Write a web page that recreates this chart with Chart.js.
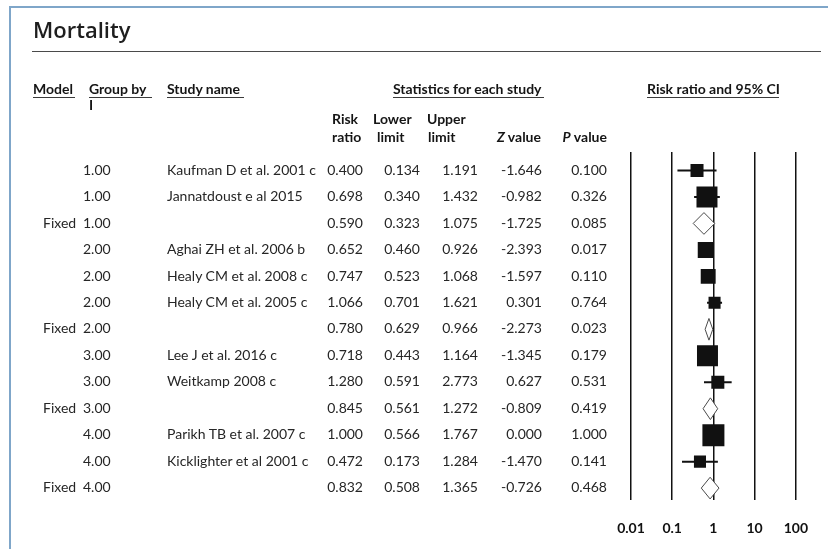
<!DOCTYPE html>
<html>
<head>
<meta charset="utf-8">
<script src="https://cdn.jsdelivr.net/npm/chart.js@4"></script>
<style>
  html, body { margin: 0; padding: 0; background: #ffffff; }
  #wrap { position: relative; width: 828px; height: 549px; overflow: hidden; background: #ffffff; }
  #plot { position: absolute; left: 0; top: 0; }
  .t { position: absolute; white-space: nowrap; }
  .hl { position: absolute; height: 1px; background: #3a3a3a; }
</style>
</head>
<body>
<div id="wrap">
  <canvas id="plot" width="828" height="549" style="width:828px;height:549px"></canvas>
</div>
<script>
// ---------------- data ----------------
const modelLabels = ['', '', 'Fixed', '', '', '', 'Fixed', '', '', 'Fixed', '', '', 'Fixed'];
const groupLabels = ['1.00', '1.00', '1.00', '2.00', '2.00', '2.00', '2.00', '3.00', '3.00', '3.00', '4.00', '4.00', '4.00'];
const studyNames = ['Kaufman D et al. 2001 c', 'Jannatdoust e al 2015', '', 'Aghai ZH et al. 2006 b',
  'Healy CM et al. 2008 c', 'Healy CM et al. 2005 c', '', 'Lee J et al. 2016 c', 'Weitkamp 2008 c', '',
  'Parikh TB et al. 2007 c', 'Kicklighter et al 2001 c', ''];
const riskRatio  = [0.400, 0.698, 0.590, 0.652, 0.747, 1.066, 0.780, 0.718, 1.280, 0.845, 1.000, 0.472, 0.832];
const lowerLimit = [0.134, 0.340, 0.323, 0.460, 0.523, 0.701, 0.629, 0.443, 0.591, 0.561, 0.566, 0.173, 0.508];
const upperLimit = [1.191, 1.432, 1.075, 0.926, 1.068, 1.621, 0.966, 1.164, 2.773, 1.272, 1.767, 1.284, 1.365];
const zValue     = [-1.646, -0.982, -1.725, -2.393, -1.597, 0.301, -2.273, -1.345, 0.627, -0.809, 0.000, -1.470, -0.726];
const pValue     = [0.100, 0.326, 0.085, 0.017, 0.110, 0.764, 0.023, 0.179, 0.531, 0.419, 1.000, 0.141, 0.468];
// relative study weight (drives square size); null for pooled rows
const relWeight  = [0.35, 0.91, null, 0.53, 0.46, 0.30, null, 0.91, 0.35, null, 1.00, 0.30, null];
const tickValues = [0.01, 0.1, 1, 10, 100];
const tickLabels = ['0.01', '0.1', '1', '10', '100'];
const titleText = 'Mortality';

// ---------------- chart ----------------
const rows = riskRatio.map((_, i) => i + 1);
const isSummary = modelLabels.map(m => m === 'Fixed');
const MAX_SIDE = 22;       // px side of the largest square
const DIAMOND_HALF = 0.41; // in row units

const datasets = [];
const sqData = [], sqRadius = [];
rows.forEach((r, i) => {
  if (isSummary[i]) return;
  sqData.push({ x: riskRatio[i], y: r });
  sqRadius.push(MAX_SIDE * Math.sqrt(relWeight[i]) / Math.SQRT2);
});
datasets.push({
  type: 'scatter', order: 0, data: sqData,
  pointStyle: 'rect', pointRadius: sqRadius, pointHoverRadius: sqRadius,
  backgroundColor: '#111111', borderColor: '#111111', borderWidth: 0
});
rows.forEach((r, i) => {
  if (isSummary[i]) {
    datasets.push({
      type: 'line', order: 1,
      data: [
        { x: lowerLimit[i], y: r },
        { x: riskRatio[i], y: r - DIAMOND_HALF },
        { x: upperLimit[i], y: r },
        { x: riskRatio[i], y: r + DIAMOND_HALF },
        { x: lowerLimit[i], y: r }
      ],
      borderColor: '#4a4a4a', borderWidth: 1, backgroundColor: '#ffffff',
      fill: 'shape', pointRadius: 0, tension: 0
    });
  } else {
    datasets.push({
      type: 'line', order: 2,
      data: [{ x: lowerLimit[i], y: r }, { x: upperLimit[i], y: r }],
      borderColor: '#111111', borderWidth: 2, pointRadius: 0, fill: false, tension: 0
    });
  }
});

const chart = new Chart(document.getElementById('plot'), {
  type: 'scatter',
  data: { datasets },
  options: {
    responsive: false,
    animation: false,
    events: [],
    layout: { padding: { left: 631, right: 32, top: 152, bottom: 0 } },
    plugins: { legend: { display: false }, tooltip: { enabled: false } },
    scales: {
      x: {
        type: 'logarithmic', min: 0.01, max: 100, position: 'bottom',
        afterBuildTicks: s => { s.ticks = tickValues.map(v => ({ value: v })); },
        afterFit: s => { s.height = 49; },
        grid: { display: true, drawTicks: false, color: '#111111', lineWidth: 1.5 },
        border: { display: false },
        ticks: {
          autoSkip: false, maxRotation: 0, padding: 20, color: '#111111',
          font: { family: 'Lato', size: 14, weight: 'bold' },
          callback: (v, i) => tickLabels[i]
        }
      },
      y: { type: 'linear', display: false, min: 0.3, max: 13.45, reverse: true }
    }
  }
});

// ---------------- text (HTML) ----------------
const wrap = document.getElementById('wrap');
function addText(html, x, baseline, o) {
  o = o || {};
  const size = o.size || 14;
  const fam = o.family || 'Lato';
  const asc = fam === 'Open Sans' ? 1.069 : 0.987;
  const lh = fam === 'Open Sans' ? 1.362 : 1.2;
  const d = document.createElement('div');
  d.className = 't';
  d.innerHTML = html;
  d.style.fontFamily = "'" + fam + "', sans-serif";
  d.style.fontSize = size + 'px';
  d.style.lineHeight = (lh * size) + 'px';
  d.style.fontWeight = o.weight || 'normal';
  d.style.color = o.color || '#262626';
  if (o.ls) d.style.letterSpacing = o.ls + 'px';
  d.style.top = (baseline - asc * size) + 'px';
  const align = o.align || 'left';
  if (align === 'left') { d.style.left = x + 'px'; }
  else if (align === 'right') { d.style.left = (x - 300) + 'px'; d.style.width = '300px'; d.style.textAlign = 'right'; }
  else { d.style.left = (x - 150) + 'px'; d.style.width = '300px'; d.style.textAlign = 'center'; }
  wrap.appendChild(d);
  return d;
}
function addRule(x1, x2, y, color, h) {
  const d = document.createElement('div');
  d.className = 'hl';
  d.style.left = x1 + 'px'; d.style.width = (x2 - x1) + 'px';
  d.style.top = y + 'px'; d.style.height = (h || 1) + 'px';
  d.style.background = color || '#3a3a3a';
  wrap.appendChild(d);
}

// frame
addRule(9, 828, 6, '#7fa6c9', 2);
(function () { const d = document.createElement('div'); d.className = 'hl';
  d.style.left = '9px'; d.style.top = '6px'; d.style.width = '2px'; d.style.height = '543px';
  d.style.background = '#7fa6c9'; wrap.appendChild(d); })();

// title + rule
addText(titleText, 33, 39, { family: 'Open Sans', size: 22, weight: 600, color: '#1e1e1e' });
addRule(32, 821, 51, '#4a4a4a', 1);

// column headers
const H = { weight: 'bold', color: '#151515', size: 14 };
addText('Model', 33, 94.5, H); addRule(33, 75, 97, '#3a3a3a');
addText('Group by', 89, 94.5, H); addRule(89, 152, 97, '#3a3a3a');
addText('I', 89, 111, H);
addText('Study name', 167, 94.5, H); addRule(167, 244, 97, '#3a3a3a');
addText('Statistics for each study', 393, 94.5, H); addRule(393, 544, 97, '#3a3a3a');
addText('Risk ratio and 95% CI', 647, 94.5, H); addRule(647, 779, 97, '#3a3a3a');
addText('Risk', 332, 125, H); addText('ratio', 332, 143, H);
addText('Lower', 373, 125, H); addText('limit', 377, 143, H);
addText('Upper', 427, 125, H); addText('limit', 428, 143, H);
addText('<i>Z</i> value', 541, 143, Object.assign({ align: 'right' }, H));
addText('<i>P</i> value', 607, 143, Object.assign({ align: 'right' }, H));

// data rows, placed at the y scale's pixel for each row
const yScale = chart.scales.y;
rows.forEach((r, i) => {
  const b = yScale.getPixelForValue(r) + 5;
  if (modelLabels[i]) addText(modelLabels[i], 43, b);
  addText(groupLabels[i], 83, b);
  if (studyNames[i]) addText(studyNames[i], 167, b);
  addText(riskRatio[i].toFixed(3), 363, b, { align: 'right' });
  addText(lowerLimit[i].toFixed(3), 420, b, { align: 'right' });
  addText(upperLimit[i].toFixed(3), 478, b, { align: 'right' });
  addText(zValue[i].toFixed(3), 542, b, { align: 'right' });
  addText(pValue[i].toFixed(3), 607, b, { align: 'right' });
});
</script>
</body>
</html>
